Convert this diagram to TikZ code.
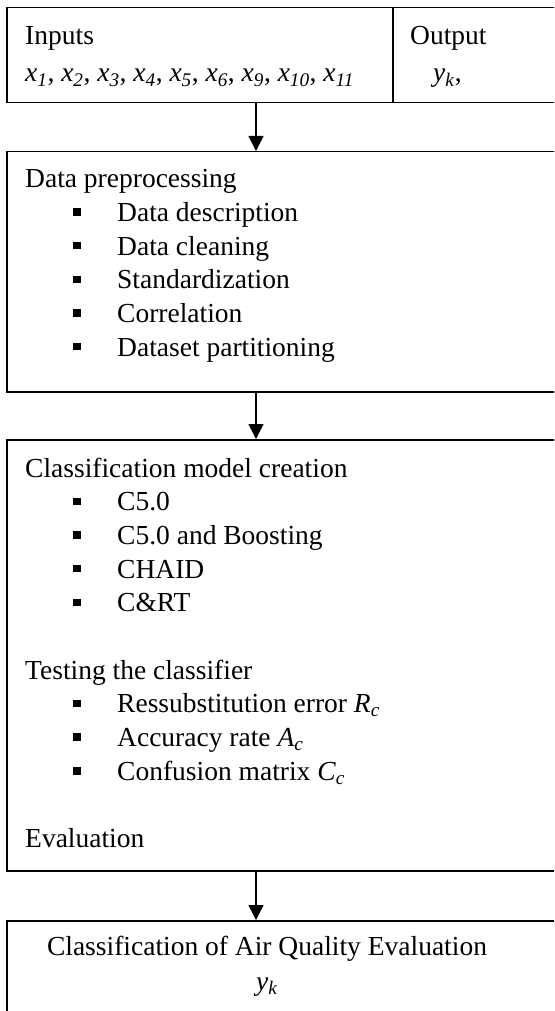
\documentclass[tikz,border=0pt]{standalone}
\usepackage{fontspec}
\setmainfont{Liberation Serif}
\usetikzlibrary{arrows.meta}
\newcommand\vsub[2]{\textit{#1}\textsubscript{\textit{#2}}}
\newcommand\bitem[1]{\hbox{\hspace*{48pt}\raisebox{5.7pt}{\rule{8pt}{7.5pt}}\hspace*{36pt}#1}}
\begin{document}
\begin{tikzpicture}[x=1pt,y=-1pt,
  boxst/.style={draw=black,line width=1.5pt,inner sep=0pt,anchor=north west},
  txt/.style={inner sep=0pt,font=\fontsize{27.5}{33.6}\selectfont},
  arr/.style={line width=1.5pt,-{Triangle[length=15pt,width=15pt]}}]
\useasboundingbox (0,0) rectangle (554,1011);
\clip (0,0) rectangle (554,1011);
% boxes
\node[boxst,minimum width=386pt,minimum height=95pt] (inp) at (6,7) {};
\node[boxst,minimum width=170pt,minimum height=95pt] (outp) at (392,7) {};
\node[boxst,minimum width=556pt,minimum height=240pt] (prep) at (6,151) {};
\node[boxst,minimum width=556pt,minimum height=431pt] (model) at (6,439) {};
\node[boxst,minimum width=556pt,minimum height=120pt] (result) at (6,920) {};
% texts
\node[txt,anchor=base west] (tin) at (25,45) {\vtop{\baselineskip=37pt
  \hbox{Inputs}
  \hbox{\vsub{x}{1}, \vsub{x}{2}, \vsub{x}{3}, \vsub{x}{4}, \vsub{x}{5}, \vsub{x}{6}, \vsub{x}{9}, \vsub{x}{10}, \vsub{x}{11}}}};
\node[txt,anchor=base west] (tout) at (410,45) {\vtop{\baselineskip=37pt
  \hbox{Output}
  \hbox{\hspace*{23pt}\vsub{y}{k},}}};
\node[txt,anchor=base west] (tprep) at (25,188) {\vtop{\baselineskip=33.6pt
  \hbox{Data preprocessing}
  \bitem{Data description}
  \bitem{Data cleaning}
  \bitem{Standardization}
  \bitem{Correlation}
  \bitem{Dataset partitioning}}};
\node[txt,anchor=base west] (tmodel) at (25,477) {\vtop{\baselineskip=33.7pt
  \hbox{Classification model creation}
  \bitem{C5.0}
  \bitem{C5.0 and Boosting}
  \bitem{CHAID}
  \bitem{C\&RT}
  \hbox{}
  \hbox{Testing the classifier}
  \bitem{Ressubstitution error \vsub{R}{c}}
  \bitem{Accuracy rate \vsub{A}{c}}
  \bitem{Confusion matrix \vsub{C}{c}}
  \hbox{}
  \hbox{Evaluation}}};
\node[txt,anchor=base] (tres1) at (267,955) {Classification of Air Quality Evaluation};
\node[txt,anchor=base] (tres2) at (267,990) {\vsub{y}{k}};
% arrows
\coordinate (ax) at (256,0);
\draw[arr] (ax |- inp.south) -- (ax |- prep.north);
\draw[arr] (ax |- prep.south) -- (ax |- model.north);
\draw[arr] (ax |- model.south) -- (ax |- result.north);
\end{tikzpicture}
\end{document}
